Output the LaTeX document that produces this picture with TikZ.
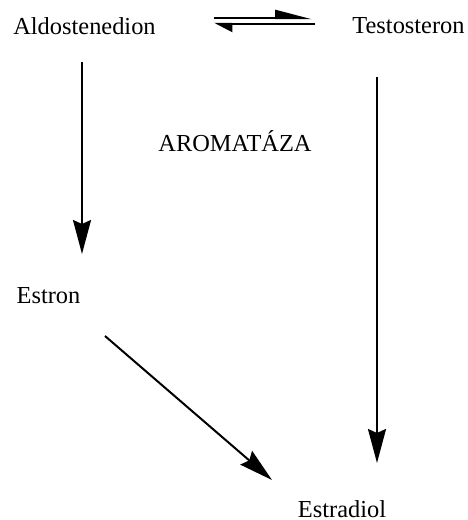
\documentclass[tikz,border=0pt]{standalone}
\usepackage{fontspec}
\setmainfont{Liberation Serif}
\usetikzlibrary{arrows.meta}

\begin{document}
\begin{tikzpicture}[x=0.5pt, y=-0.5pt, >={Stealth[length=17pt, width=9pt, inset=2pt]},
        label/.style={anchor=base, inner sep=0pt, font=\fontsize{12.2}{14}\selectfont},
        reakce/.style={->, line width=1pt}]
        \useasboundingbox (0,0) rectangle (467,520);

        % Latky
        \node[label] (ald) at (84.5,34) {Aldostenedion};
        \node[label] (test) at (408.5,33) {Testosteron};
        \node[label] (arom) at (235,151) {AROMATÁZA};
        \node[label] (estron) at (48.5,303) {Estron};
        \node[label] (estr) at (342,517) {Estradiol};

        % Rovnovaha Aldostenedion - Testosteron
        \coordinate (R1) at (214,18);
        \coordinate (R2) at (312,18);
        \coordinate (R3) at (315,24);
        \coordinate (R4) at (214,24);
        \draw[-{Stealth[harpoon, length=16pt, width=8pt, inset=0pt]}, line width=1.2pt] (R1) -- (R2);
        \draw[-{Stealth[harpoon, length=8pt, width=8pt, inset=0pt]}, line width=1.2pt] (R3) -- (R4);

        % Aldostenedion -> Estron
        \coordinate (A1) at (82,62);
        \coordinate (A2) at (82,254);
        \draw[reakce] (A1) -- (A2);

        % Testosteron -> Estradiol
        \coordinate (T1) at (377,77);
        \coordinate (T2) at (377,463);
        \draw[reakce] (T1) -- (T2);

        % Estron -> Estradiol
        \coordinate (E1) at (105,336);
        \coordinate (E2) at (272,480);
        \draw[reakce] (E1) -- (E2);

\end{tikzpicture}
\end{document}
